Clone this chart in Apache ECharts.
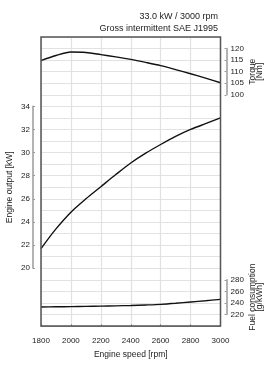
<!DOCTYPE html>
<html>
<head>
<meta charset="utf-8">
<script src="https://cdn.jsdelivr.net/npm/echarts@6/dist/echarts.min.js"></script>
<style>html,body{margin:0;padding:0;background:#fff;}#c{width:269px;height:381px;}</style>
</head>
<body>
<div id="c"></div>
<script>
// ---- data ----
var rpm = [1800, 1900, 2000, 2100, 2200, 2300, 2400, 2500, 2600, 2700, 2800, 2900, 3000];
var torque = [114.8, 117.0, 118.5, 118.3, 117.4, 116.4, 115.3, 114.0, 112.6, 110.9, 109.1, 107.2, 105.2];
var power = [21.7, 23.4, 24.85, 26.0, 27.05, 28.1, 29.1, 29.95, 30.7, 31.4, 32.0, 32.5, 33.0];
var fuel = [233.0, 233.2, 233.5, 234.0, 234.4, 234.9, 235.5, 236.4, 237.5, 239.3, 241.5, 243.7, 246.0];
var titleLines = ['33.0 kW / 3000 rpm', 'Gross intermittent SAE J1995'];
var xName = 'Engine speed [rpm]';
var powerName = 'Engine output [kW]';
var torqueName = 'Torque\n[Nm]';
var fuelName = 'Fuel consumption\n[g/kWh]';

function pairs(xs, ys) { return xs.map(function (x, i) { return [x, ys[i]]; }); }

var FONT = 'Liberation Sans, Arial, sans-serif';
var TXT = '#222';
var GRID_TOP = 37, GRID_H = 289, STEP = GRID_H / 25;
var PLOT_L = 41, PLOT_W = 179.5;

var chart = echarts.init(document.getElementById('c'), null, { renderer: 'canvas' });
var bracketAxisLine = { show: true, lineStyle: { color: '#9a9a9a', width: 1.5 } };
var bracketTick = { show: true, inside: true, length: 2, lineStyle: { color: '#9a9a9a', width: 1 } };
var lbl = { color: TXT, fontSize: 8, fontFamily: FONT, margin: 3 };
var titleStyle = { fontSize: 9, fontWeight: 'normal', color: TXT, fontFamily: FONT };

chart.setOption({
  animation: false,
  title: [
    { text: titleLines[0], right: 51, top: 12, padding: 0, textStyle: titleStyle },
    { text: titleLines[1], right: 51, top: 24.5, padding: 0, textStyle: titleStyle }
  ],
  grid: [
    { left: PLOT_L, top: GRID_TOP, width: PLOT_W, height: GRID_H, show: true, borderColor: '#555', borderWidth: 1.5, backgroundColor: 'transparent', z: 5 },
    { left: 33, width: 1, top: GRID_TOP + 6 * STEP, height: 14 * STEP },
    { left: 226.5, width: 1, top: GRID_TOP + STEP, height: 4 * STEP },
    { left: 226.5, width: 1, top: GRID_TOP + 21 * STEP, height: 3 * STEP }
  ],
  xAxis: [
    { type: 'value', gridIndex: 0, min: 1800, max: 3000, interval: 200, offset: 6,
      axisLine: { show: true, lineStyle: { color: '#9a9a9a', width: 1 } },
      axisTick: { show: true, inside: true, length: 2, lineStyle: { color: '#9a9a9a' } },
      axisLabel: { color: TXT, fontSize: 8, fontFamily: FONT, margin: 5, formatter: function (v) { return String(v); } },
      splitLine: { show: true, lineStyle: { color: '#e2e2e2', width: 1.2 } },
      name: xName, nameLocation: 'middle', nameGap: 18,
      nameTextStyle: { color: TXT, fontSize: 8.5, fontFamily: FONT } },
    { type: 'value', gridIndex: 1, show: false, min: 0, max: 1 },
    { type: 'value', gridIndex: 2, show: false, min: 0, max: 1 },
    { type: 'value', gridIndex: 3, show: false, min: 0, max: 1 }
  ],
  yAxis: [
    { type: 'value', gridIndex: 0, min: 15, max: 40, interval: 1,
      axisLine: { show: false }, axisTick: { show: false }, axisLabel: { show: false },
      splitLine: { show: true, lineStyle: { color: '#e2e2e2', width: 1 } } },
    { type: 'value', gridIndex: 0, min: 0, max: 125, show: false, splitLine: { show: false } },
    { type: 'value', gridIndex: 0, min: 200, max: 700, show: false, splitLine: { show: false } },
    { type: 'value', gridIndex: 1, position: 'left', min: 20, max: 34, interval: 2,
      axisLine: bracketAxisLine, axisTick: bracketTick, axisLabel: lbl, splitLine: { show: false },
      name: powerName, nameLocation: 'middle', nameGap: 19,
      nameTextStyle: { color: TXT, fontSize: 8.5, fontFamily: FONT } },
    { type: 'value', gridIndex: 2, position: 'right', min: 100, max: 120, interval: 5,
      axisLine: bracketAxisLine, axisTick: bracketTick, axisLabel: lbl, splitLine: { show: false },
      name: torqueName, nameLocation: 'middle', nameGap: 21, nameRotate: 90,
      nameTextStyle: { color: TXT, fontSize: 8.5, fontFamily: FONT, lineHeight: 7.5 } },
    { type: 'value', gridIndex: 3, position: 'right', min: 220, max: 280, interval: 20,
      axisLine: bracketAxisLine, axisTick: bracketTick, axisLabel: lbl, splitLine: { show: false },
      name: fuelName, nameLocation: 'middle', nameGap: 21, nameRotate: 90,
      nameTextStyle: { color: TXT, fontSize: 8.5, fontFamily: FONT, lineHeight: 7.5 } }
  ],
  series: [
    { type: 'line', xAxisIndex: 0, yAxisIndex: 1, data: pairs(rpm, torque), smooth: 0.3, symbol: 'none',
      lineStyle: { color: '#111', width: 1.4 }, z: 3 },
    { type: 'line', xAxisIndex: 0, yAxisIndex: 0, data: pairs(rpm, power), smooth: 0.3, symbol: 'none',
      lineStyle: { color: '#111', width: 1.4 }, z: 3 },
    { type: 'line', xAxisIndex: 0, yAxisIndex: 2, data: pairs(rpm, fuel), smooth: 0.3, symbol: 'none',
      lineStyle: { color: '#111', width: 1.4 }, z: 3 }
  ]
});
</script>
</body>
</html>
